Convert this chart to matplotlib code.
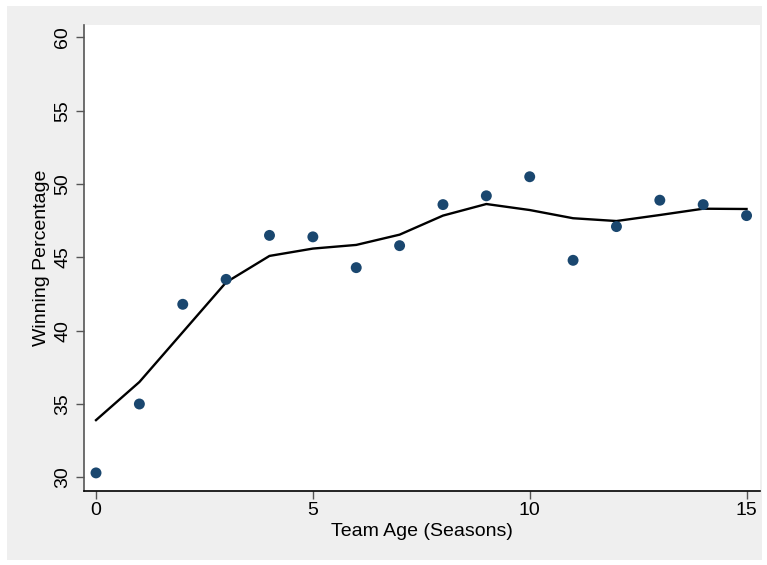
import matplotlib
matplotlib.use("Agg")
import matplotlib.pyplot as plt
from matplotlib.patches import Rectangle

team_age = [0, 1, 2, 3, 4, 5, 6, 7, 8, 9, 10, 11, 12, 13, 14, 15]
win_pct = [30.3, 35.0, 41.8, 43.5, 46.5, 46.4, 44.3, 45.8, 48.6, 49.2, 50.5, 44.8, 47.1, 48.9, 48.6, 47.85]
smooth = [33.9, 36.5, 39.9, 43.3, 45.1, 45.6, 45.85, 46.55, 47.85, 48.64, 48.23, 47.67, 47.48, 47.89, 48.32, 48.30]
x_ticks = [0, 5, 10, 15]
y_ticks = [30, 35, 40, 45, 50, 55, 60]

plt.rcParams['font.family'] = ['Liberation Sans', 'DejaVu Sans']

fig = plt.figure(figsize=(7.67, 5.65), dpi=100)
fig.patch.set_facecolor('white')
fig.patches.append(Rectangle((7/767, 1-560/565), (762-7)/767, (560-6)/565,
                             transform=fig.transFigure, facecolor='#efefef',
                             edgecolor='none', zorder=-10))

ax = fig.add_axes([84/767, 1-490.5/565, 676/767, 465.5/565])
ax.set_zorder(1)
ax.set_facecolor('white')

ax.plot(team_age, smooth, color='black', lw=1.7, zorder=2)
ax.scatter(team_age, win_pct, s=62, color='#1a476f', edgecolors='none', zorder=3)

ax.set_xlim(-0.277, 15.31)
ax.set_ylim(29.10, 60.85)
ax.set_xticks(x_ticks)
ax.set_yticks(y_ticks)
ax.set_yticklabels([str(t) for t in y_ticks], rotation=90, va='center')

for s in ['top', 'right']:
    ax.spines[s].set_visible(False)
ax.spines['left'].set_color('#555555')
ax.spines['bottom'].set_color('black')
ax.spines['left'].set_linewidth(1.2)
ax.spines['bottom'].set_linewidth(1.2)
ax.tick_params(axis='both', length=6, width=1, color='#555555', labelsize=14)
ax.tick_params(axis='x', pad=2)
ax.tick_params(axis='y', pad=3)

ax.set_xlabel('Team Age (Seasons)', fontsize=14, labelpad=3)
ax.set_ylabel('Winning Percentage', fontsize=14, labelpad=3)

fig.savefig('out.png', dpi=100, facecolor=fig.get_facecolor())
